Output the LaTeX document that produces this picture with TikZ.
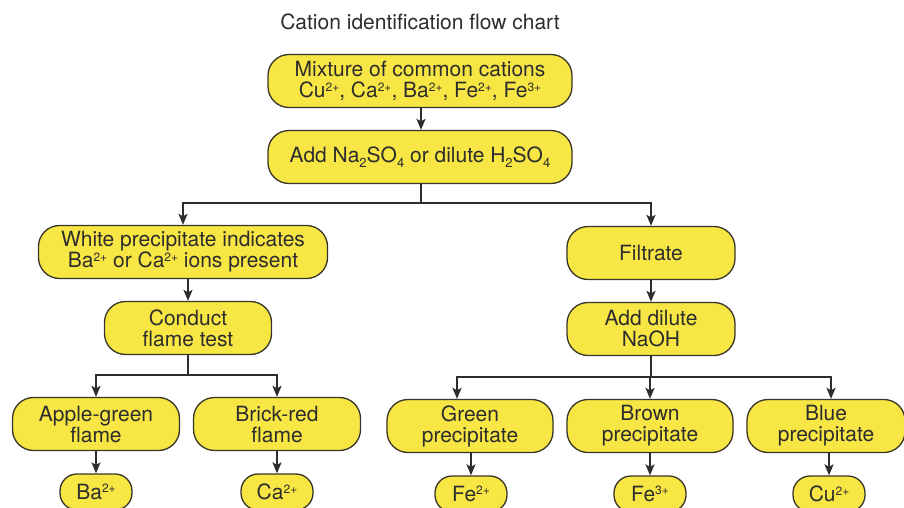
\documentclass[tikz,border=0pt]{standalone}
\usepackage{fontspec}
\setmainfont{TeX Gyre Heros}
\usepackage{tikz}
\usepackage{xcolor}
\usetikzlibrary{shapes.geometric,arrows,arrows.meta}
\definecolor{boxfill}{RGB}{247,230,68}
\definecolor{boxedge}{RGB}{55,52,40}
\definecolor{inkgray}{RGB}{45,45,45}
\newcommand{\chg}[1]{\raisebox{0.6ex}{\fontsize{12}{12}\selectfont #1}}
\newcommand{\idx}[1]{\raisebox{-0.45ex}{\fontsize{13}{13}\selectfont #1}}
\tikzstyle{box} = [rectangle, rounded corners=21pt, draw=boxedge, fill=boxfill, line width=1.3pt, text centered, align=center, minimum height=53pt, inner sep=0pt, text=inkgray]
\tikzstyle{ion} = [box, rounded corners=17pt, minimum width=72pt, minimum height=36pt]
\tikzstyle{line} = [draw=inkgray, line width=1.8pt]
\tikzstyle{arrow} = [line, ->, >={Stealth[length=11pt,width=9pt,inset=2.5pt]}]

\begin{document}
\begin{tikzpicture}[x=1pt, y=-1pt, node distance=76pt, font=\fontsize{21}{21}\selectfont]
    \useasboundingbox (0,0) rectangle (904,508);

    \node (title) [text=inkgray] at (420,22) {Cation identification flow chart};

    \node (mixture) [box, minimum width=304pt] at (420,81) {Mixture of common cations\\Cu\chg{2+}, Ca\chg{2+}, Ba\chg{2+}, Fe\chg{2+}, Fe\chg{3+}};
    \node (add) [box, minimum width=304pt, below of=mixture] {Add Na\idx{2}SO\idx{4} or dilute H\idx{2}SO\idx{4}};

    \node (white) [box, minimum width=289pt] at (183,252) {White precipitate indicates\\Ba\chg{2+} or Ca\chg{2+} ions present};
    \node (conduct) [box, minimum width=167pt] at (188,328) {Conduct\\flame test};
    \node (filtrate) [box, minimum width=168pt] at (651,253) {Filtrate};
    \node (naoh) [box, minimum width=168pt, below of=filtrate] {Add dilute\\NaOH};

    \node (apple) [box, minimum width=167pt] at (96,424) {Apple-green\\flame};
    \node (brick) [box, minimum width=167pt] at (277,424) {Brick-red\\flame};
    \node (green) [box, minimum width=166pt] at (470,426) {Green\\precipitate};
    \node (brown) [box, minimum width=166pt] at (650,426) {Brown\\precipitate};
    \node (blue) [box, minimum width=158pt] at (826,426) {Blue\\precipitate};

    \node (ba) [ion] at (96,492) {Ba\chg{2+}};
    \node (ca) [ion] at (277,492) {Ca\chg{2+}};
    \node (fetwo) [ion] at (471,494) {Fe\chg{2+}};
    \node (fethree) [ion] at (650,494) {Fe\chg{3+}};
    \node (cu) [ion] at (829,494) {Cu\chg{2+}};

    \coordinate (split1) at (421,203);
    \coordinate (split2) at (188,375);
    \coordinate (split3) at (651,377);

    \draw [arrow] (mixture.south -| split1) -- (add.north -| split1);
    \draw [line] (add.south -| split1) -- (split1);
    \draw [arrow] (split1) -| (white);
    \draw [arrow] (split1) -| (filtrate);

    \draw [arrow] (white.south -| conduct) -- (conduct);
    \draw [line] (conduct) -- (split2);
    \draw [arrow] (split2) -| (apple);
    \draw [arrow] (split2) -| (brick);

    \draw [arrow] (filtrate) -- (naoh);
    \draw [line] (naoh) -- (split3);
    \draw [arrow] (split3) -| ([xshift=-13pt]green.north);
    \draw [arrow] (split3) -| (brown);
    \draw [arrow] (split3) -| ([xshift=5pt]blue.north);

    \draw [arrow] (apple) -- (ba);
    \draw [arrow] (brick) -- (ca);
    \draw [arrow] (green.south -| fetwo) -- (fetwo);
    \draw [arrow] (brown) -- (fethree);
    \draw [arrow] (blue.south -| cu) -- (cu);
\end{tikzpicture}
\end{document}
